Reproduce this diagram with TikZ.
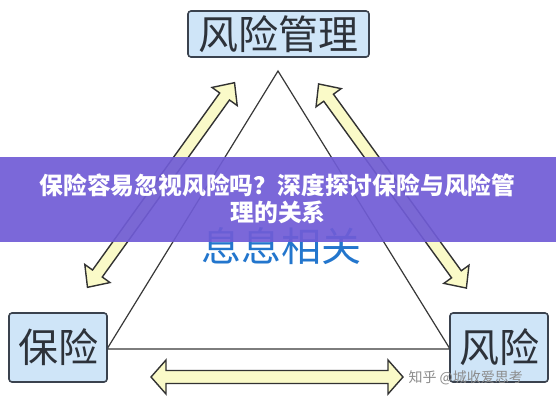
\documentclass[tikz,border=0pt]{standalone}
\usepackage{fontspec}
\newfontfamily\cjk{Noto Sans CJK SC}
\definecolor{boxfill}{RGB}{207,229,248}
\definecolor{boxline}{RGB}{58,66,78}
\definecolor{arrfill}{RGB}{250,250,200}
\definecolor{arrline}{RGB}{50,50,50}
\definecolor{banner}{RGB}{112,92,214}
\definecolor{relblue}{RGB}{35,118,205}
\definecolor{txtdark}{RGB}{45,50,58}
\tikzset{
  conceptbox/.style={draw=boxline, fill=boxfill, line width=1.6pt, rounded corners=3pt,
    inner sep=0pt, font=\cjk\fontsize{40}{40}\selectfont, text=txtdark},
  arrowshape/.style={draw=arrline, fill=arrfill, line width=1.4pt, line join=miter},
  triline/.style={draw=black!78, line width=1.2pt}
}
% #1 centre, #2 angle, #3 half length, #4 head half width, #5 shaft half width, #6 head length
\newcommand\mydblarrow[6]{%
  \begin{scope}[shift={#1}, rotate=#2]
    \path[arrowshape] (-#3,0) -- (-#3+#6,#4) -- (-#3+#6,#5) -- (#3-#6,#5) -- (#3-#6,#4)
      -- (#3,0) -- (#3-#6,-#4) -- (#3-#6,-#5) -- (-#3+#6,-#5) -- (-#3+#6,-#4) -- cycle;
  \end{scope}}
\begin{document}
\begin{tikzpicture}[x=1pt,y=-1pt]
\useasboundingbox[fill=white] (0,0) rectangle (556,400);
% triangle
\coordinate (apex) at (278,71);
\coordinate (tl) at (107,349);
\coordinate (tr) at (450,349);
\draw[triline] (apex) -- (tl) -- (tr) -- cycle;
% arrows
\coordinate (lmid) at (161,185);
\coordinate (rmid) at (392.5,186);
\coordinate (bmid) at (277,377);
\mydblarrow{(lmid)}{54.3}{126}{15.5}{6}{17}
\mydblarrow{(rmid)}{125.9}{126}{15.5}{6}{17}
\mydblarrow{(bmid)}{0}{126}{17}{6.5}{15}
% boxes
\node[conceptbox, minimum width=181pt, minimum height=46pt] (risk) at (278.5,34) {风险管理};
\node[conceptbox, minimum width=98pt, minimum height=69pt] (ins) at (58,347.5) {保险};
\node[conceptbox, minimum width=98pt, minimum height=69pt] (rk) at (499,347.5) {风险};
% center text
\node[font=\cjk\fontsize{40}{40}\selectfont, text=relblue] (rel) at (281,246) {息息相关};
% banner
\fill[banner, opacity=0.92] (0,157) rectangle (556,242);
\node[font=\cjk\bfseries\fontsize{23.8}{23.8}\selectfont, text=white] (t1) at (277.5,185) {保险容易忽视风险吗？深度探讨保险与风险管};
\node[font=\cjk\bfseries\fontsize{23.8}{23.8}\selectfont, text=white] (t2) at (278,212) {理的关系};
% watermark
\node[font=\cjk\fontsize{14}{14}\selectfont, text=black!45, anchor=west] (wm) at (405,378) {知乎 @城收爱思考};
\end{tikzpicture}
\end{document}
